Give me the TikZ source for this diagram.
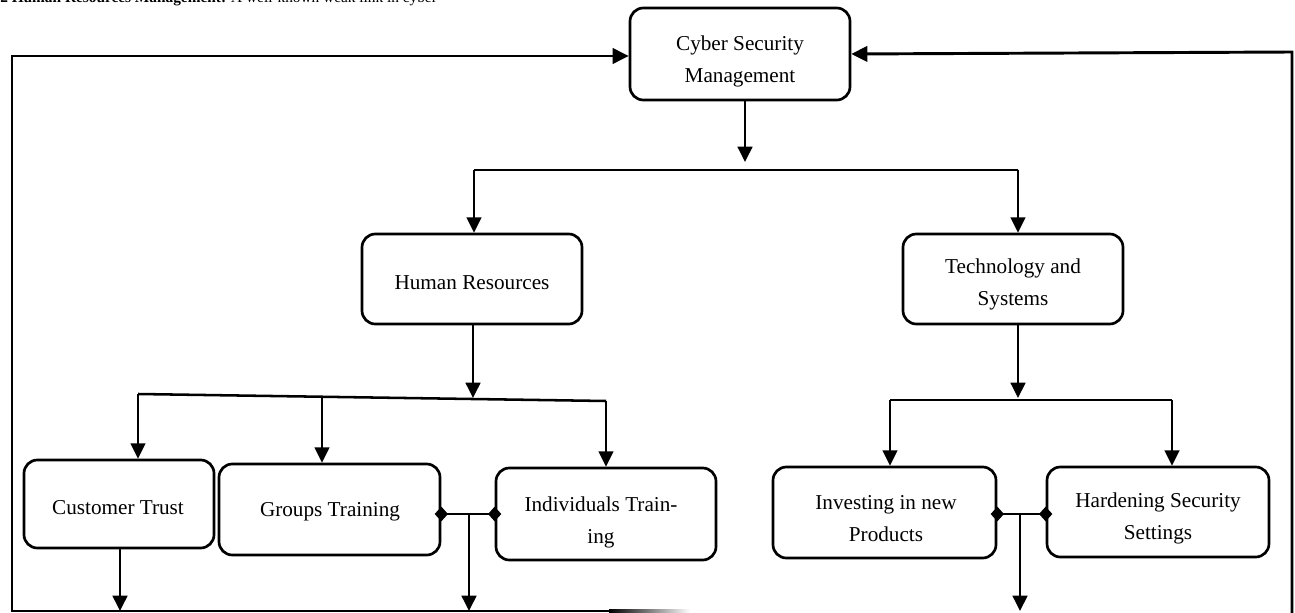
\documentclass[tikz,border=0pt]{standalone}
\usepackage{fontspec}
\setmainfont{Liberation Serif}
\usetikzlibrary{arrows.meta,calc}
\begin{document}
\begin{tikzpicture}[x=0.75pt,y=-0.75pt,
  box/.style={draw,line width=2pt,rounded corners=10pt,inner sep=0pt},
  lbl/.style={align=center,font=\fontsize{15.9}{24}\selectfont,inner sep=0pt},
  conn/.style={line width=1.9pt},
  arr/.style={conn,-{Triangle[length=11.5pt,width=11pt]}},
  frame/.style={line width=2.2pt},
  farr/.style={frame,-{Triangle[length=12pt,width=11.5pt]}},
  dia/.style={conn,{Diamond[length=10pt,width=11pt]}-{Diamond[length=10pt,width=11pt]},shorten <=-5pt,shorten >=-5pt},
]
\useasboundingbox (0,0) rectangle (1295,613);
\clip (0,0) rectangle (1295,613);

% clipped heading line at the very top
\node[anchor=base west,inner sep=0pt,font=\fontsize{11.5}{13}\selectfont] (hdr) at (0,2.5)
  {\textbf{2 Human Resources Management:} A well-known weak link in cyber};

% boxes
\node[box,minimum width=165pt,minimum height=69pt] (csm) at (740,54) {};
\node[lbl] (csmt) at (740,61) {Cyber Security\\Management};

\node[box,minimum width=165pt,minimum height=67.5pt] (hr) at (472,279) {};
\node[lbl] (hrt) at (472,283) {Human Resources};

\node[box,minimum width=165pt,minimum height=67.5pt] (ts) at (1013,279) {};
\node[lbl] (tst) at (1013,284) {Technology and\\Systems};

\node[box,minimum width=142.5pt,minimum height=66pt] (ct) at (119,504) {};
\node[lbl] (ctt) at (118,508) {Customer Trust};

\node[box,minimum width=165.75pt,minimum height=68.25pt] (gt) at (329.5,509.5) {};
\node[lbl] (gtt) at (330,512) {Groups Training};

\node[box,minimum width=165pt,minimum height=69pt] (it) at (606,514) {};
\node[lbl] (itt) at (601,522.5) {Individuals Train-\\ing};

\node[box,minimum width=167.25pt,minimum height=68.25pt] (inv) at (884.5,512.5) {};
\node[lbl] (invt) at (886,519) {Investing in new\\Products};

\node[box,minimum width=166.5pt,minimum height=67.5pt] (hs) at (1158,512) {};
\node[lbl] (hst) at (1158,518.5) {Hardening Security\\Settings};

% junction coordinates
\coordinate (cj) at (745,162);
\coordinate (c1) at (474,170);
\coordinate (c2) at (1018,170);
\coordinate (hj) at (473,398);
\coordinate (h1) at (138,394);
\coordinate (h2) at (322,397);
\coordinate (h3) at (606,401);
\coordinate (tj) at (1018,398);
\coordinate (t1) at (890,400);
\coordinate (t2) at (1172,400);
\coordinate (m1) at (469,514);
\coordinate (m2) at (1020,514);
\coordinate (ftl) at (12,56);
\coordinate (fbl) at (12,611);
\coordinate (fbr) at (610,611);
\coordinate (ftr) at (1292,52);
\coordinate (fbrr) at (1292,613);

% top level
\draw[arr] (cj |- csm.south) -- (cj);
\draw[conn] (c1) -- (c2);
\draw[arr] (c1) -- (c1 |- hr.north);
\draw[arr] (c2) -- (c2 |- ts.north);

% human resources branch
\draw[arr] (hj |- hr.south) -- (hj);
\draw[conn] (h1) -- (h3);
\draw[arr] (h1) -- (h1 |- ct.north);
\draw[arr] (h2) -- (h2 |- gt.north);
\draw[arr] (h3) -- (h3 |- it.north);

% technology branch
\draw[arr] (tj |- ts.south) -- (tj);
\draw[conn] (t1) -- (t2);
\draw[arr] (t1) -- (t1 |- inv.north);
\draw[arr] (t2) -- (t2 |- hs.north);

% diamond links
\draw[dia] (m1 -| gt.east) -- (m1 -| it.west);
\draw[dia] (m2 -| inv.east) -- (m2 -| hs.west);

% feedback frame
\draw[farr] (fbr) -- (fbl) -- (ftl) -- (ftl -| csm.west);
\shade[left color=black,right color=white] (609,609.5) rectangle (690,612.5);
\draw[farr] (fbrr) -- (ftr) -- (csm.east);

% arrows down to the frame
\draw[arr] ($(ct.south)+(1,0)$) -- ($(ct.south |- fbl)+(1,0)$);
\draw[arr] (m1) -- (m1 |- fbl);
\draw[arr] (m2) -- (m2 |- fbl);
\end{tikzpicture}
\end{document}
